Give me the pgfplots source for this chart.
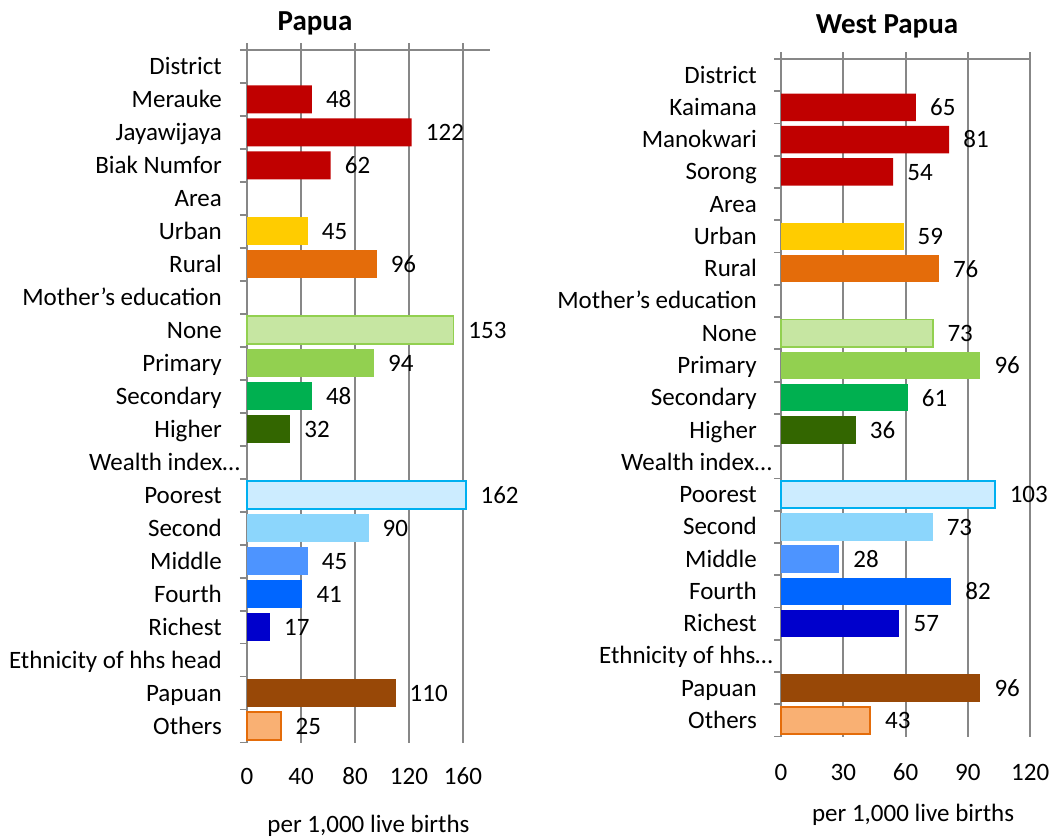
\documentclass[border=0pt]{standalone}
\usepackage{fontspec}
\setmainfont{Carlito}
\usepackage{pgfplots}
\pgfplotsset{compat=1.18}

\definecolor{gridgray}{HTML}{878787}
\definecolor{dred}{HTML}{C00000}
\definecolor{urban}{HTML}{FFCC00}
\definecolor{rural}{HTML}{E46C0A}
\definecolor{nonefill}{HTML}{C6E6A2}
\definecolor{noneline}{HTML}{92D050}
\definecolor{primary}{HTML}{92D050}
\definecolor{secondary}{HTML}{00B050}
\definecolor{higher}{HTML}{336600}
\definecolor{poorfill}{HTML}{CCECFF}
\definecolor{poorline}{HTML}{00B0F0}
\definecolor{second}{HTML}{8CD6FC}
\definecolor{middle}{HTML}{4D94FF}
\definecolor{fourth}{HTML}{0066FF}
\definecolor{richest}{HTML}{0000CC}
\definecolor{papuan}{HTML}{984807}
\definecolor{othfill}{HTML}{F9B073}
\definecolor{othline}{HTML}{E46C0A}

\newcommand\lbl{\fontsize{25bp}{29bp}\selectfont}

\pgfplotsset{
  mortality/.style={
    scale only axis,
    xbar,
    xmin=0,
    ymin=-0.5, ymax=20.5,
    axis line style={draw=none},
    xmajorgrids,
    grid style={gridgray, line width=1.8bp},
    tick style={gridgray, line width=1.8bp},
    tick align=outside,
    major tick length=0pt,
    minor tick length=7bp,
    xtick pos=upper,
    xticklabel pos=lower,
    ytick pos=left,
    ytick={0,...,20},
    minor ytick={-0.5,0.5,1.5,2.5,3.5,4.5,5.5,6.5,7.5,8.5,9.5,10.5,11.5,12.5,13.5,14.5,15.5,16.5,17.5,18.5,19.5,20.5},
    extra y ticks={20.5},
    extra y tick labels={},
    extra y tick style={grid=major},
    yticklabel style={font=\lbl, anchor=base east, inner sep=0pt, yshift=-8bp},
    xticklabel style={font=\lbl, anchor=base, inner sep=0pt},
    xlabel style={font=\lbl, anchor=base, at={(axis description cs:0.5,0)}},
    xlabel={per 1,000 live births},
    point meta=x,
    nodes near coords,
    every node near coord/.append style={font=\lbl, anchor=base west, inner sep=0pt, xshift=14bp, yshift=-8.3bp, black},
    bar width=0.85,
    /pgf/number format/assume math mode=true,
    clip=false,
  },
  mbar/.style={fill=#1, draw=none, bar shift=0pt},
  obar/.style 2 args={fill=#1, draw=#2, line width=1.8bp, bar shift=0pt},
}

\begin{document}
\begin{tikzpicture}
\useasboundingbox (0,0) rectangle (1052bp,-837bp);

% Papua
\begin{axis}[
    mortality,
    at={(247bp,-742.5bp)}, anchor=south west,
    width=243bp, height=692.5bp,
    xmax=180,
    xtick={0,40,80,120,160},
    minor xtick={0,40,80,120,160},
    yticklabels={{Others},{Papuan},{Ethnicity of hhs head},{Richest},{Fourth},{Middle},{Second},{Poorest},{Wealth index…\kern-18bp},{Higher},{Secondary},{Primary},{None},{Mother’s education},{Rural},{Urban},{Area},{Biak Numfor},{Jayawijaya},{Merauke},{District}},
    yticklabel style={xshift=-25bp},
    xticklabel style={yshift=-41.5bp},
    xlabel style={yshift=-89.5bp},
]
\addplot[mbar=dred] coordinates {(48,19) (122,18) (62,17)};
\addplot[mbar=urban] coordinates {(45,15)};
\addplot[mbar=rural] coordinates {(96,14)};
\addplot[obar={nonefill}{noneline}] coordinates {(153,12)};
\addplot[mbar=primary] coordinates {(94,11)};
\addplot[mbar=secondary] coordinates {(48,10)};
\addplot[mbar=higher] coordinates {(32,9)};
\addplot[obar={poorfill}{poorline}] coordinates {(162,7)};
\addplot[mbar=second] coordinates {(90,6)};
\addplot[mbar=middle] coordinates {(45,5)};
\addplot[mbar=fourth] coordinates {(41,4)};
\addplot[mbar=richest] coordinates {(17,3)};
\addplot[mbar=papuan] coordinates {(110,1)};
\addplot[obar={othfill}{othline}] coordinates {(25,0)};
\end{axis}

% West Papua
\begin{axis}[
    mortality,
    at={(781bp,-736.5bp)}, anchor=south west,
    width=249.2bp, height=677.5bp,
    xmax=120,
    xtick={0,30,60,90,120},
    minor xtick={0,30,60,90,120},
    yticklabels={{Others},{Papuan},{Ethnicity of hhs…\kern-16bp},{Richest},{Fourth},{Middle},{Second},{Poorest},{Wealth index…\kern-15bp},{Higher},{Secondary},{Primary},{None},{Mother’s education},{Rural},{Urban},{Area},{Sorong},{Manokwari},{Kaimana},{District}},
    yticklabel style={xshift=-24bp},
    xticklabel style={yshift=-43.5bp},
    xlabel style={yshift=-84.5bp, xshift=7.5bp},
]
\addplot[mbar=dred] coordinates {(65,19) (81,18) (54,17)};
\addplot[mbar=urban] coordinates {(59,15)};
\addplot[mbar=rural] coordinates {(76,14)};
\addplot[obar={nonefill}{noneline}] coordinates {(73,12)};
\addplot[mbar=primary] coordinates {(96,11)};
\addplot[mbar=secondary] coordinates {(61,10)};
\addplot[mbar=higher] coordinates {(36,9)};
\addplot[obar={poorfill}{poorline}] coordinates {(103,7)};
\addplot[mbar=second] coordinates {(73,6)};
\addplot[mbar=middle] coordinates {(28,5)};
\addplot[mbar=fourth] coordinates {(82,4)};
\addplot[mbar=richest] coordinates {(57,3)};
\addplot[mbar=papuan] coordinates {(96,1)};
\addplot[obar={othfill}{othline}] coordinates {(43,0)};
\end{axis}

\node[anchor=base, font=\fontsize{29bp}{33bp}\selectfont\bfseries] at (315bp,-30bp) {Papua};
\node[anchor=base, font=\fontsize{29bp}{33bp}\selectfont\bfseries] at (887bp,-33bp) {West Papua};
\end{tikzpicture}
\end{document}
